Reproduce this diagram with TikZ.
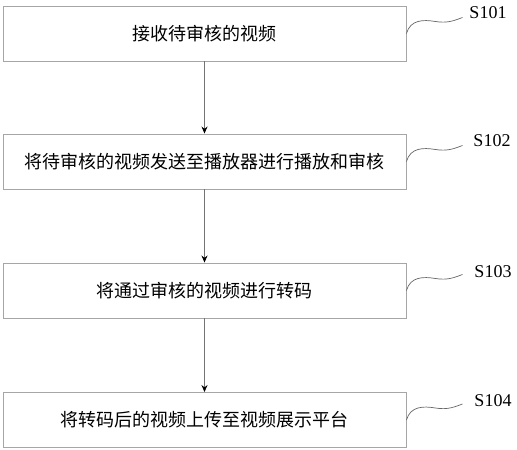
\documentclass[tikz,border=0pt]{standalone}
\usepackage{fontspec}
\setmainfont{Liberation Serif}
\newfontfamily\cjk{Noto Sans CJK SC}
\usepackage{tikz}
\usetikzlibrary{arrows.meta,positioning,calc}

\tikzset{
  stepbox/.style={draw=black!35, line width=0.9pt, minimum width=403pt, minimum height=55pt,
    inner sep=0pt, font=\cjk\fontsize{18}{20}\selectfont},
  flow/.style={draw=black!55, line width=0.8pt, -{Stealth[black,length=7pt,width=6pt]}},
  wave/.style={draw=black!60, line width=0.7pt},
  steplabel/.style={font=\fontsize{18}{20}\selectfont}
}

\begin{document}
\begin{tikzpicture}[x=1pt,y=-1pt]
\useasboundingbox (0,0) rectangle (517,450);

\node[stepbox] (B1) at (204.5,33.5) {接收待审核的视频};
\node[stepbox] (B2) at (204.5,161.5) {将待审核的视频发送至播放器进行播放和审核};
\node[stepbox] (B3) at (204.5,290.5) {将通过审核的视频进行转码};
\node[stepbox] (B4) at (204.5,420) {将转码后的视频上传至视频展示平台};

\draw[flow] (B1) -- (B2);
\draw[flow] (B2) -- (B3);
\draw[flow] (B3) -- (B4);

\node[steplabel] (L1) at (488,13) {S101};
\node[steplabel] (L2) at (492,141) {S102};
\node[steplabel] (L3) at (493,272) {S103};
\node[steplabel] (L4) at (493,401) {S104};

\coordinate (W1) at ($(B1.east)+(56,-16)$);
\coordinate (W2) at ($(B2.east)+(56,-16)$);
\coordinate (W3) at ($(B3.east)+(56,-16)$);
\coordinate (W4) at ($(B4.east)+(56,-16)$);

\draw[wave] (B1.east) .. controls +(4,-14) and +(-12,-2) .. +(29,-12) .. controls +(12,2) and +(-8,3) .. (W1);
\draw[wave] (B2.east) .. controls +(4,-14) and +(-12,-2) .. +(29,-12) .. controls +(12,2) and +(-8,3) .. (W2);
\draw[wave] (B3.east) .. controls +(4,-14) and +(-12,-2) .. +(29,-12) .. controls +(12,2) and +(-8,3) .. (W3);
\draw[wave] (B4.east) .. controls +(4,-14) and +(-12,-2) .. +(29,-12) .. controls +(12,2) and +(-8,3) .. (W4);
\end{tikzpicture}
\end{document}
